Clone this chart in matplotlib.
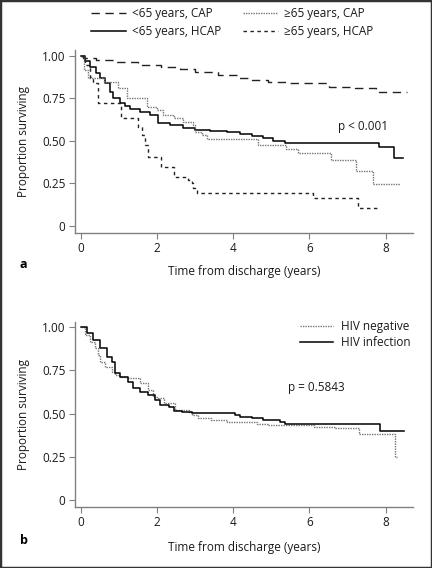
import matplotlib
matplotlib.use('Agg')
import matplotlib.pyplot as plt
from matplotlib.patches import Rectangle

plt.rcParams['font.family'] = ['Open Sans', 'DejaVu Sans']

# Painel a: curvas de sobrevida (tempo em anos, proporcao)
cap_jovem_t = [0, 0.05, 0.4, 0.9, 1.5, 2.1, 2.6, 3.0, 3.6, 4.15, 4.5, 4.9, 5.4, 6.5, 7.2, 7.75, 8.56]
cap_jovem_s = [1.0, 0.985, 0.975, 0.963, 0.945, 0.935, 0.923, 0.907, 0.888, 0.869, 0.857, 0.849, 0.839, 0.82, 0.81, 0.79, 0.79]

hcap_jovem_t = [0, 0.1, 0.24, 0.4, 0.5, 0.63, 0.75, 0.85, 1.02, 1.15, 1.29, 1.55, 1.81, 2.03, 2.34, 2.69,
                3.0, 3.39, 3.83, 4.18, 4.49, 4.79, 5.05, 5.36, 6.63, 7.83, 8.21, 8.47]
hcap_jovem_s = [1.0, 0.97, 0.937, 0.9, 0.868, 0.84, 0.79, 0.75, 0.72, 0.705, 0.69, 0.67, 0.652, 0.603, 0.593, 0.574,
                0.565, 0.56, 0.55, 0.54, 0.53, 0.515, 0.50, 0.49, 0.486, 0.466, 0.397, 0.397]

cap_idoso_t = [0, 0.08, 0.19, 0.59, 0.98, 1.2, 1.73, 1.99, 2.16, 2.45, 2.69, 2.95, 3.0, 3.17, 3.3,
               4.64, 5.38, 5.71, 6.56, 7.22, 7.67, 8.38]
cap_idoso_s = [1.0, 0.92, 0.868, 0.849, 0.81, 0.75, 0.70, 0.68, 0.652, 0.635, 0.61, 0.593, 0.55, 0.534, 0.509,
               0.476, 0.452, 0.43, 0.387, 0.322, 0.244, 0.244]

hcap_idoso_t = [0, 0.1, 0.24, 0.32, 0.45, 1.05, 1.5, 1.59, 1.68, 1.75, 2.1, 2.45, 2.8, 2.91, 2.95, 3.04,
                6.1, 7.27, 7.77]
hcap_idoso_s = [1.0, 0.947, 0.878, 0.84, 0.72, 0.633, 0.58, 0.534, 0.476, 0.407, 0.348, 0.289, 0.27, 0.25, 0.22, 0.191,
                0.161, 0.102, 0.102]

# Painel b: HIV
hiv_pos_t = [0, 0.15, 0.32, 0.49, 0.67, 0.8, 0.89, 1.02, 1.23, 1.36, 1.54, 1.75, 1.93, 2.06, 2.32, 2.45, 2.66,
             2.92, 4.05, 4.18, 4.49, 4.79, 5.23, 5.36, 7.85, 8.48]
hiv_pos_s = [1.0, 0.962, 0.923, 0.876, 0.827, 0.798, 0.731, 0.712, 0.683, 0.645, 0.626, 0.607, 0.578, 0.549, 0.539,
             0.516, 0.507, 0.501, 0.491, 0.482, 0.472, 0.462, 0.453, 0.44, 0.40, 0.40]

hiv_neg_t = [0, 0.1, 0.23, 0.36, 0.45, 0.49, 0.63, 0.8, 0.89, 1.02, 1.23, 1.55, 1.75, 1.88, 2.01, 2.19, 2.48,
             2.84, 2.92, 3.06, 3.4, 3.84, 4.62, 4.9, 6.12, 6.66, 7.29, 8.24, 8.31]
hiv_neg_s = [1.0, 0.952, 0.914, 0.876, 0.837, 0.798, 0.77, 0.741, 0.722, 0.712, 0.706, 0.674, 0.635, 0.597, 0.587,
             0.559, 0.52, 0.51, 0.491, 0.476, 0.462, 0.449, 0.44, 0.432, 0.424, 0.415, 0.38, 0.251, 0.251]

y_ticks = [0, 0.25, 0.5, 0.75, 1.0]
y_labels = ['0', '0.25', '0.50', '0.75', '1.00']
x_ticks = [0, 2, 4, 6, 8]

FS = 8.5
CINZA = '#808080'
TEXTO = '#1a1a1a'


def estilo_eixo(ax, ylim, xlabel_y):
    ax.set_xlim(-0.16, 8.72)
    ax.set_ylim(*ylim)
    ax.spines['top'].set_visible(False)
    ax.spines['right'].set_visible(False)
    for lado in ['left', 'bottom']:
        ax.spines[lado].set_color(CINZA)
        ax.spines[lado].set_linewidth(1.0)
    ax.set_xticks(x_ticks)
    ax.set_yticks(y_ticks)
    ax.set_yticklabels(y_labels)
    ax.tick_params(axis='both', colors=CINZA, labelcolor=TEXTO, labelsize=FS, length=4, width=0.8, pad=3)
    ax.set_xlabel('Time from discharge (years)', fontsize=FS, color=TEXTO)
    ax.set_ylabel('Proportion surviving', fontsize=FS, color=TEXTO)
    ax.xaxis.set_label_coords(0.5, xlabel_y)
    ax.yaxis.set_label_coords(-0.132, 0.5)


fig = plt.figure(figsize=(4.32, 5.68), dpi=100)

# Painel a
ax1 = fig.add_axes([75 / 432, 1 - 232.7 / 568, 338 / 432, 182.7 / 568])
ax1.step(cap_jovem_t, cap_jovem_s, where='post', color='#222222', lw=1.0,
         linestyle=(0, (6, 4)), label='<65 years, CAP')
ax1.step(hcap_jovem_t, hcap_jovem_s, where='post', color='black', lw=1.1,
         label='<65 years, HCAP')
ax1.step(cap_idoso_t, cap_idoso_s, where='post', color='#777777', lw=1.0,
         linestyle=(0, (1, 0.8)), label='≥65 years, CAP')
ax1.step(hcap_idoso_t, hcap_idoso_s, where='post', color='#222222', lw=1.0,
         linestyle=(0, (2.5, 2.5)), label='≥65 years, HCAP')
estilo_eixo(ax1, (-0.041, 1.035), -0.177)
ax1.text(6.75, 0.587, 'p < 0.001', fontsize=FS, color=TEXTO, va='center')
fig.legend(handles=ax1.get_legend_handles_labels()[0], loc='upper left',
           bbox_to_anchor=(91 / 432, 1 - 7 / 568), ncol=2, frameon=False,
           fontsize=FS, handlelength=3.0, columnspacing=1.8, handletextpad=0.5,
           labelspacing=0.45, borderpad=0, borderaxespad=0, labelcolor=TEXTO)

# Painel b
ax2 = fig.add_axes([75 / 432, 1 - 506.7 / 568, 338 / 432, 185 / 568])
ax2.step(hiv_neg_t, hiv_neg_s, where='post', color='#777777', lw=1.0,
         linestyle=(0, (1, 0.8)), label='HIV negative')
ax2.step(hiv_pos_t, hiv_pos_s, where='post', color='black', lw=1.1,
         label='HIV infection')
estilo_eixo(ax2, (-0.037, 1.029), -0.184)
ax2.text(5.44, 0.647, 'p = 0.5843', fontsize=FS, color=TEXTO, va='center')
fig.legend(handles=ax2.get_legend_handles_labels()[0], loc='upper left',
           bbox_to_anchor=(300 / 432, 1 - 320 / 568), frameon=False, fontsize=FS,
           handlelength=2.8, handletextpad=0.7, labelspacing=0.25,
           borderpad=0, borderaxespad=0, labelcolor=TEXTO)

# Rotulos dos paineis
fig.text(20 / 432, 1 - 265 / 568, 'a', fontsize=9, fontweight='bold', va='center')
fig.text(20 / 432, 1 - 540 / 568, 'b', fontsize=9, fontweight='bold', va='center')

# Moldura
fig.patches.append(Rectangle((0, 0), 1, 1, transform=fig.transFigure, fill=False,
                             edgecolor='#333333', lw=2.5))

fig.savefig('out.png', dpi=100)
